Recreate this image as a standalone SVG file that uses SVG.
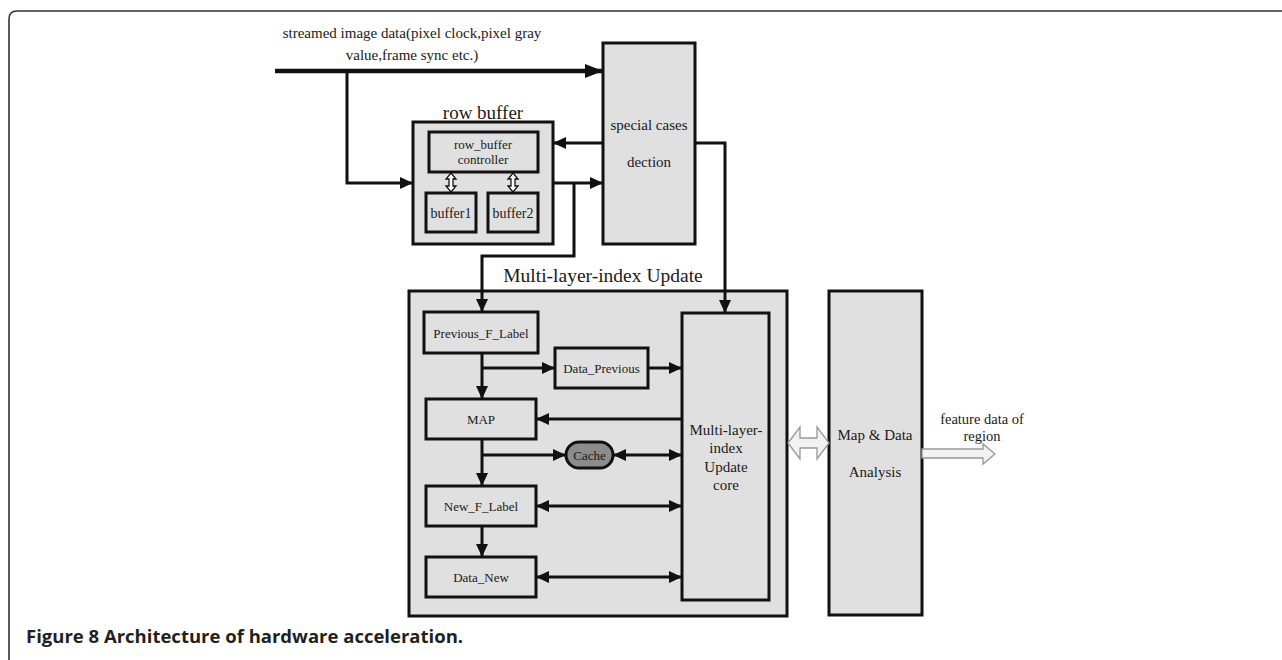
<svg xmlns="http://www.w3.org/2000/svg" width="1282" height="660" viewBox="0 0 1282 660">
  <style>
    .box { fill: #e0e0e0; stroke: #111; stroke-width: 3; }
    .t { font-family: "Liberation Serif", "Times New Roman", serif; fill: #1a1a1a; text-anchor: middle; }
    .wire { fill: none; stroke: #111; stroke-width: 3; }
    .hollow { fill: #fff; stroke: #111; stroke-width: 1.3; }
    .fat { fill: #f2f2f2; stroke: #999; stroke-width: 1.3; }
  </style>
  <defs>
    <marker id="ah" markerUnits="userSpaceOnUse" markerWidth="14" markerHeight="12" refX="13" refY="6" orient="auto-start-reverse">
      <path d="M0,0 L13,6 L0,12 Z" fill="#111"/>
    </marker>
    <marker id="ahBig" markerUnits="userSpaceOnUse" markerWidth="19" markerHeight="14" refX="18" refY="7" orient="auto">
      <path d="M0,0 L18,7 L0,14 Z" fill="#111"/>
    </marker>
  </defs>

  <rect width="1282" height="660" fill="#fff"/>

  <!-- figure frame -->
  <path d="M9,660 L9,19 Q9,11 17,11 L1282,11" fill="none" stroke="#333" stroke-width="1.6"/>

  <!-- input label -->
  <text class="t" x="412" y="38" font-size="15">streamed image data(pixel clock,pixel gray</text>
  <text class="t" x="412" y="60" font-size="15">value,frame sync etc.)</text>

  <!-- row buffer -->
  <g id="row-buffer">
    <text class="t" x="483" y="119" font-size="19">row buffer</text>
    <rect class="box" x="413" y="122" width="140" height="122"/>
    <g id="row-buffer-controller">
      <rect class="box" x="429" y="132" width="109" height="40"/>
      <text class="t" x="483" y="149" font-size="13">row_buffer</text>
      <text class="t" x="483" y="164" font-size="13">controller</text>
    </g>
    <g id="buffer1">
      <rect class="box" x="426" y="193" width="50" height="39"/>
      <text class="t" x="451" y="218" font-size="14">buffer1</text>
    </g>
    <g id="buffer2">
      <rect class="box" x="488" y="193" width="50" height="39"/>
      <text class="t" x="513" y="218" font-size="14">buffer2</text>
    </g>
  </g>

  <!-- special cases detection -->
  <g id="special-cases">
    <rect class="box" x="603" y="43" width="92" height="201"/>
    <text class="t" x="649" y="130" font-size="15">special cases</text>
    <text class="t" x="649" y="167" font-size="15">dection</text>
  </g>

  <!-- multi-layer-index update block -->
  <g id="mli-update">
    <text class="t" x="603" y="282" font-size="19.5">Multi-layer-index Update</text>
    <rect class="box" x="409" y="291" width="378" height="325"/>
  </g>
  <g id="previous-f-label">
    <rect class="box" x="424" y="312" width="114" height="41"/>
    <text class="t" x="481" y="337.5" font-size="13">Previous_F_Label</text>
  </g>
  <g id="data-previous">
    <rect class="box" x="555" y="348" width="93" height="40"/>
    <text class="t" x="601.5" y="372.5" font-size="13">Data_Previous</text>
  </g>
  <g id="map">
    <rect class="box" x="426" y="399" width="110" height="40"/>
    <text class="t" x="481" y="423.5" font-size="13">MAP</text>
  </g>
  <g id="cache">
    <rect x="566" y="442" width="47" height="26" rx="13" fill="#8c8c8c" stroke="#111" stroke-width="3"/>
    <text class="t" x="589.5" y="459.5" font-size="13">Cache</text>
  </g>
  <g id="new-f-label">
    <rect class="box" x="426" y="486" width="110" height="40"/>
    <text class="t" x="481" y="510.5" font-size="13">New_F_Label</text>
  </g>
  <g id="data-new">
    <rect class="box" x="426" y="557" width="110" height="40"/>
    <text class="t" x="481" y="581.5" font-size="13">Data_New</text>
  </g>
  <g id="mli-core">
    <rect class="box" x="682" y="313" width="87" height="287"/>
    <text class="t" x="726" y="435" font-size="15">Multi-layer-</text>
    <text class="t" x="726" y="453" font-size="15">index</text>
    <text class="t" x="726" y="472" font-size="15">Update</text>
    <text class="t" x="726" y="490" font-size="15">core</text>
  </g>

  <!-- map & data analysis -->
  <g id="map-data-analysis">
    <rect class="box" x="829" y="291" width="93" height="324"/>
    <text class="t" x="875" y="440" font-size="15">Map &amp; Data</text>
    <text class="t" x="875" y="477" font-size="15">Analysis</text>
  </g>

  <!-- output label -->
  <text class="t" x="982" y="424" font-size="14.5">feature data of</text>
  <text class="t" x="982" y="441" font-size="14.5">region</text>

  <!-- connectors -->
  <g id="connectors">
    <line x1="275" y1="71" x2="603" y2="71" stroke="#111" stroke-width="4.5" marker-end="url(#ahBig)"/>
    <polyline class="wire" points="347,71 347,183 413,183" marker-end="url(#ah)"/>
    <line class="wire" x1="603" y1="143" x2="553" y2="143" marker-end="url(#ah)"/>
    <line class="wire" x1="553" y1="183" x2="603" y2="183" marker-end="url(#ah)"/>
    <polyline class="wire" points="574,183 574,256 482,256 482,312" marker-end="url(#ah)"/>
    <polyline class="wire" points="695,143 725,143 725,313" marker-end="url(#ah)"/>
    <line class="wire" x1="482" y1="353" x2="482" y2="399" marker-end="url(#ah)"/>
    <line class="wire" x1="482" y1="368" x2="555" y2="368" marker-end="url(#ah)"/>
    <line class="wire" x1="648" y1="368" x2="682" y2="368" marker-end="url(#ah)"/>
    <line class="wire" x1="682" y1="419" x2="536" y2="419" marker-end="url(#ah)"/>
    <line class="wire" x1="482" y1="439" x2="482" y2="486" marker-end="url(#ah)"/>
    <line class="wire" x1="482" y1="455" x2="566" y2="455" marker-end="url(#ah)"/>
    <line class="wire" x1="613" y1="455" x2="682" y2="455" marker-start="url(#ah)" marker-end="url(#ah)"/>
    <line class="wire" x1="536" y1="506" x2="682" y2="506" marker-start="url(#ah)" marker-end="url(#ah)"/>
    <line class="wire" x1="482" y1="526" x2="482" y2="557" marker-end="url(#ah)"/>
    <line class="wire" x1="536" y1="577" x2="682" y2="577" marker-start="url(#ah)" marker-end="url(#ah)"/>
    <!-- controller <-> buffers -->
    <path class="hollow" d="M451,173 L456,179 L453,179 L453,186 L456,186 L451,192 L446,186 L449,186 L449,179 L446,179 Z"/>
    <path class="hollow" d="M513,173 L518,179 L515,179 L515,186 L518,186 L513,192 L508,186 L511,186 L511,179 L508,179 Z"/>
    <!-- update block <-> analysis -->
    <path class="fat" d="M788,443 L800,427 L800,438 L817,438 L817,427 L829,443 L817,459 L817,448 L800,448 L800,459 Z"/>
    <!-- analysis output -->
    <path class="fat" d="M922,449 L983,449 L983,444 L995,454 L983,464 L983,458 L922,458 Z"/>
  </g>

  <!-- caption -->
  <text x="26" y="643" font-family="'Open Sans', 'Liberation Sans', sans-serif" font-weight="bold" font-size="18.5" fill="#231f20">Figure 8 Architecture of hardware acceleration.</text>
</svg>
